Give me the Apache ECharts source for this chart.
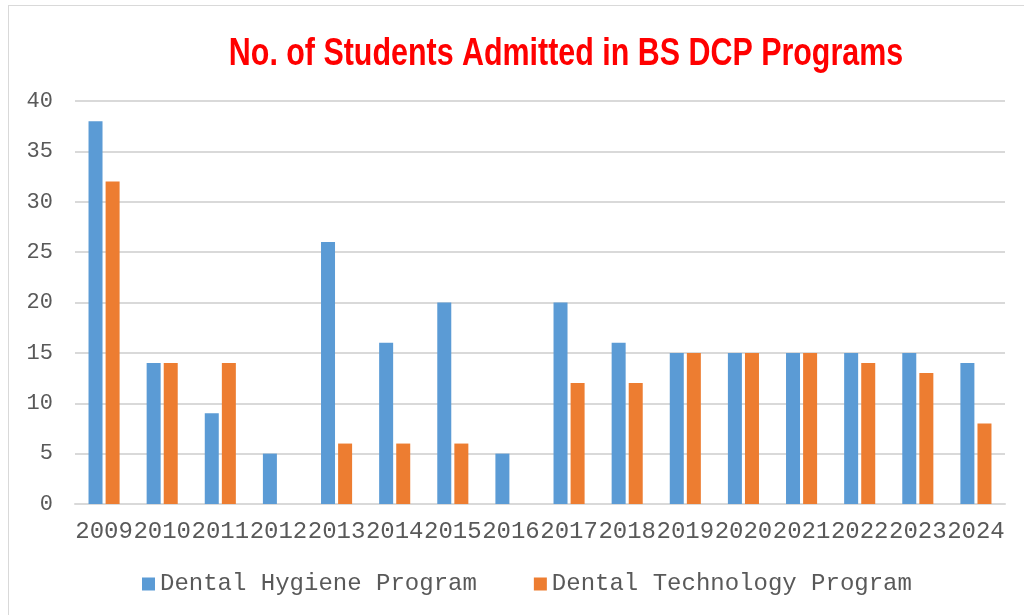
<!DOCTYPE html>
<html>
<head>
<meta charset="utf-8">
<script src="https://cdn.jsdelivr.net/npm/echarts@6/dist/echarts.min.js"></script>
<style>
  html, body { margin: 0; padding: 0; background: #fff; }
  #frame { position: absolute; left: 8px; top: 5px; right: -2px; bottom: -2px; border: 1px solid #d9d9d9; }
  #chart { position: absolute; left: 0; top: 0; width: 1024px; height: 615px; }
</style>
</head>
<body>
<div id="frame"></div>
<div id="chart"></div>
<script>
// years on the x axis
const years = ['2009', '2010', '2011', '2012', '2013', '2014', '2015', '2016',
  '2017', '2018', '2019', '2020', '2021', '2022', '2023', '2024']
// students admitted per year
const hygiene = [38, 14, 9, 5, 26, 16, 20, 5, 20, 16, 15, 15, 15, 15, 15, 14]
const technology = [32, 14, 14, null, 6, 6, 6, null, 12, 12, 15, 15, 15, 14, 13, 8]

const titleText = 'No. of Students Admitted in BS DCP Programs'
const monoFont = '"Liberation Mono", "DejaVu Sans Mono", monospace'

const chart = echarts.init(document.getElementById('chart'))
chart.setOption({
  animation: false,
  // no narrow font installed, so the bold title is squeezed horizontally
  graphic: [
    {
      type: 'text',
      x: 566,
      y: 54,
      scaleX: 0.78,
      style: {
        text: titleText,
        fill: '#ff0000',
        font: 'bold 39px "Liberation Sans", Arial, sans-serif',
        textAlign: 'center',
        textVerticalAlign: 'middle'
      }
    }
  ],
  grid: {
    left: 75,
    right: 19,
    top: 101,
    bottom: 111
  },
  legend: {
    bottom: 14,
    left: 137,
    itemWidth: 13,
    itemHeight: 13,
    itemGap: 57,
    icon: 'rect',
    textStyle: {
      color: '#595959',
      fontSize: 24,
      fontFamily: monoFont
    },
    data: ['Dental Hygiene Program', 'Dental Technology Program']
  },
  xAxis: {
    type: 'category',
    data: years,
    axisLine: { lineStyle: { color: '#d9d9d9', width: 2 } },
    axisTick: { show: false },
    axisLabel: {
      interval: 0,
      margin: 16,
      color: '#595959',
      fontSize: 24,
      fontFamily: monoFont
    }
  },
  yAxis: {
    type: 'value',
    min: 0,
    max: 40,
    interval: 5,
    axisLine: { show: false },
    axisTick: { show: false },
    splitLine: { lineStyle: { color: '#d9d9d9', width: 2 } },
    axisLabel: {
      margin: 22,
      color: '#595959',
      fontSize: 22,
      fontFamily: monoFont
    }
  },
  series: [
    {
      name: 'Dental Hygiene Program',
      type: 'bar',
      data: hygiene,
      barWidth: 14,
      barGap: '22%',
      itemStyle: { color: '#5b9bd5' }
    },
    {
      name: 'Dental Technology Program',
      type: 'bar',
      data: technology,
      barWidth: 14,
      itemStyle: { color: '#ed7d31' }
    }
  ]
})
</script>
</body>
</html>
